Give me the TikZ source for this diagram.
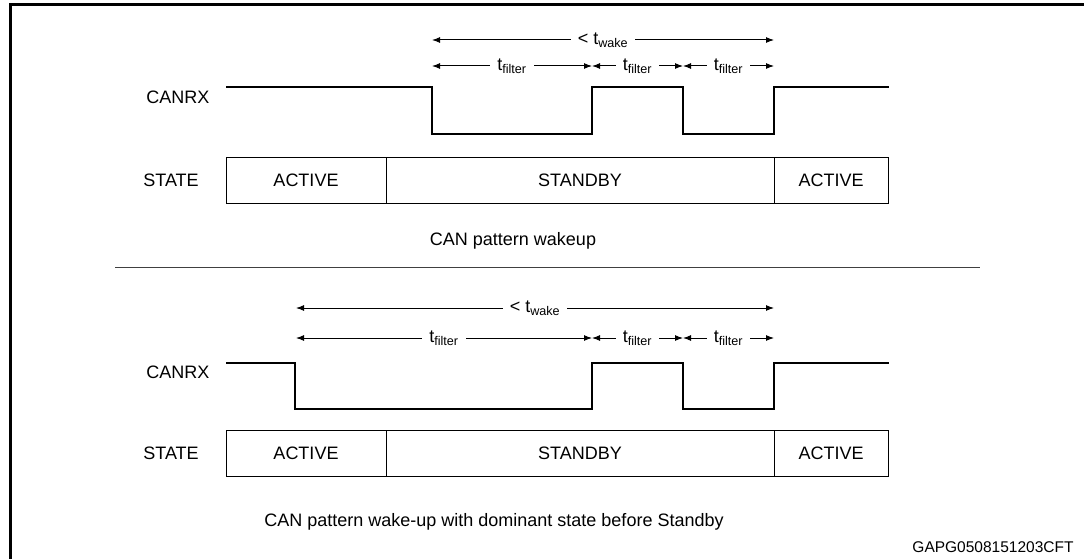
\documentclass[tikz,border=0pt]{standalone}
\usepackage{fontspec}
\setmainfont{Liberation Sans}
\usetikzlibrary{arrows.meta}

\tikzset{
  signal/.style={line width=1.2pt},
  statebox/.style={draw, line width=0.9pt, minimum height=46pt, inner sep=0pt, outer sep=0pt, anchor=west},
  span/.style={{Latex[length=8pt,width=6pt]}-{Latex[length=8pt,width=6pt]}, line width=1pt},
  spanlabel/.style={fill=white, inner xsep=7pt, inner ysep=1pt}
}

\begin{document}
\begin{tikzpicture}[x=1pt, y=-1pt, font=\fontsize{18}{21}\selectfont]
\useasboundingbox (0,0) rectangle (1084,559);

% Draw the frame
\draw[line width=2.5pt] (10.5,559) -- (10.5,4.5) -- (1084,4.5);

% Top: timing arrows
\coordinate (w1a) at (432,40);
\coordinate (w1b) at (774,40);
\draw[span] (w1a) -- node[spanlabel] {< t\textsubscript{wake}} (w1b);
\coordinate (f1a) at (432,66);
\coordinate (f1b) at (592,66);
\coordinate (f1c) at (683,66);
\coordinate (f1d) at (774,66);
\foreach \a/\b in {f1a/f1b, f1b/f1c, f1c/f1d}
{
    \draw[span] (\a) -- node[spanlabel] {t\textsubscript{filter}} (\b);
}

% Top: CANRX signal
\node (canrx1) at (178,97) {CANRX};
\draw[signal] (226,87) -- (432,87) -- (432,134) -- (592,134) -- (592,87)
  -- (683,87) -- (683,134) -- (774,134) -- (774,87) -- (889,87);

% Top: state boxes
\node (state1) at (171,180) {STATE};
\node[statebox, minimum width=160pt] (act1) at (226,180) {ACTIVE};
\node[statebox, minimum width=388pt] (stby1) at (act1.east) {STANDBY};
\node[statebox, minimum width=114pt] (wake1) at (stby1.east) {ACTIVE};

\node (cap1) at (513,241) {CAN pattern wakeup};

% Separator
\draw[line width=1.2pt, black!75] (115,267.5) -- (980,267.5);

% Bottom: timing arrows
\coordinate (w2a) at (296,308);
\coordinate (w2b) at (774,308);
\draw[span] (w2a) -- node[spanlabel] {< t\textsubscript{wake}} (w2b);
\coordinate (f2a) at (296,338);
\coordinate (f2b) at (592,338);
\coordinate (f2c) at (683,338);
\coordinate (f2d) at (774,338);
\foreach \a/\b in {f2a/f2b, f2b/f2c, f2c/f2d}
{
    \draw[span] (\a) -- node[spanlabel] {t\textsubscript{filter}} (\b);
}

% Bottom: CANRX signal
\node (canrx2) at (178,372) {CANRX};
\draw[signal] (226,363) -- (295,363) -- (295,409) -- (592,409) -- (592,363)
  -- (683,363) -- (683,409) -- (774,409) -- (774,363) -- (889,363);

% Bottom: state boxes
\node (state2) at (171,453) {STATE};
\node[statebox, minimum width=160pt] (act2) at (226,453) {ACTIVE};
\node[statebox, minimum width=388pt] (stby2) at (act2.east) {STANDBY};
\node[statebox, minimum width=114pt] (wake2) at (stby2.east) {ACTIVE};

\node (cap2) at (494,522) {CAN pattern wake-up with dominant state before Standby};
\node[font=\fontsize{15.5}{18}\selectfont] (docid) at (993,547) {GAPG0508151203CFT};

\end{tikzpicture}
\end{document}
